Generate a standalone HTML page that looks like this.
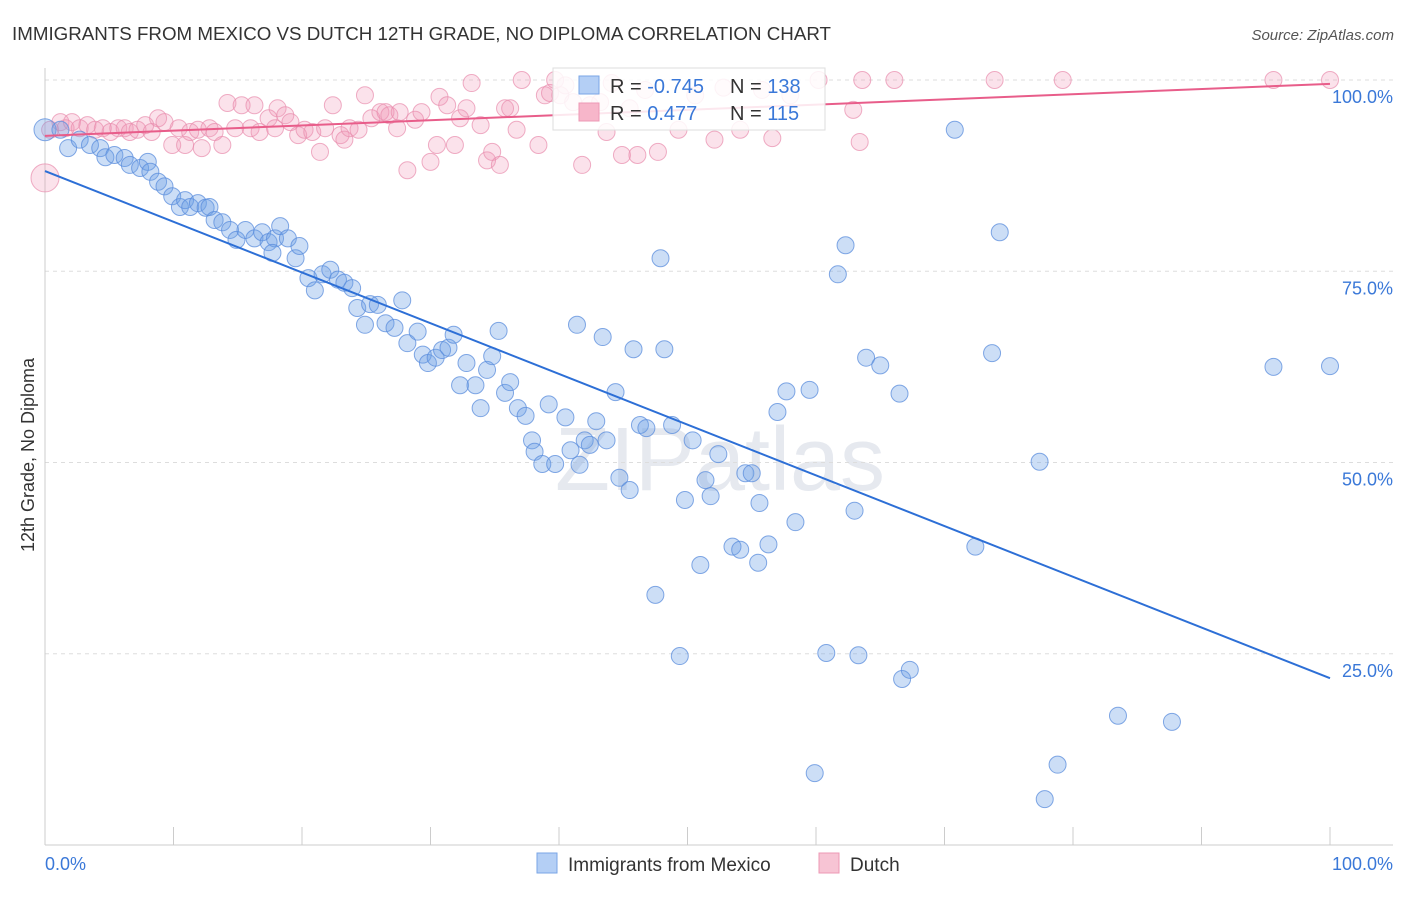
<!DOCTYPE html>
<html><head><meta charset="utf-8">
<style>
body{margin:0;background:#fff;font-family:"Liberation Sans",sans-serif;}
svg text{font-family:"Liberation Sans",sans-serif;}
</style></head>
<body>
<svg id="chart" width="1406" height="892" xmlns="http://www.w3.org/2000/svg">
<text x="12" y="40" font-size="18" fill="#333" textLength="819" lengthAdjust="spacingAndGlyphs">IMMIGRANTS FROM MEXICO VS DUTCH 12TH GRADE, NO DIPLOMA CORRELATION CHART</text>
<text x="1394" y="40" font-size="15" fill="#555" font-style="italic" text-anchor="end">Source: ZipAtlas.com</text>
<text x="720" y="490" font-size="90" fill="#e6e9ef" text-anchor="middle" font-family="Liberation Serif">ZIPatlas</text>
<g id="grid"></g>
<g id="pts"></g>
<g id="lines"></g>
<text transform="translate(34,455) rotate(-90)" font-size="18" fill="#333" text-anchor="middle">12th Grade, No Diploma</text>
<g>
<rect x="553" y="68" width="272" height="62" fill="#fff" fill-opacity="0.85" stroke="#ddd"/>
<rect x="579" y="76" width="20" height="18" fill="#b4cff5" stroke="#7aa6e6"/>
<rect x="579" y="103" width="20" height="18" fill="#f7b6ca" stroke="#ee98b5"/>
<text x="610" y="93" font-size="20" fill="#333">R = <tspan fill="#3a78d8">-0.745</tspan></text>
<text x="730" y="93" font-size="20" fill="#333">N = <tspan fill="#3a78d8">138</tspan></text>
<text x="610" y="120" font-size="20" fill="#333">R = <tspan fill="#3a78d8"> 0.477</tspan></text>
<text x="730" y="120" font-size="20" fill="#333">N = <tspan fill="#3a78d8">115</tspan></text>
</g>
<g>
<rect x="537" y="853" width="20" height="20" fill="#b4cff5" stroke="#7aa6e6"/>
<text x="568" y="871" font-size="19" fill="#333">Immigrants from Mexico</text>
<rect x="819" y="853" width="20" height="20" fill="#f7c4d4" stroke="#ee98b5"/>
<text x="850" y="871" font-size="19" fill="#333">Dutch</text>
</g>
</svg>
<script>
const yTicks=[100,75,50,25];
const xTickLabels=["0.0%","100.0%"];
const blueX=[0,1.2,1.8,2.7,3.5,4.3,4.7,5.4,6.2,6.6,7.4,8.0,8.2,8.8,9.3,9.9,10.5,10.9,11.3,11.9,12.5,12.8,13.2,13.8,14.4,14.9,15.6,16.3,16.9,17.4,17.9,17.7,18.3,18.9,19.5,19.8,20.5,21.0,21.6,22.2,22.8,23.3,23.9,24.3,24.9,25.3,25.9,26.5,27.2,27.8,28.2,29.0,29.4,29.8,30.4,30.9,31.4,31.8,32.3,32.8,33.5,33.9,34.4,34.8,35.3,35.8,36.2,36.8,37.4,37.9,38.1,38.7,39.2,39.7,40.5,40.9,41.4,41.6,42.0,42.4,42.9,43.4,43.7,44.4,44.7,45.5,45.8,46.3,46.8,47.5,47.9,48.2,48.8,49.4,49.8,50.4,51.0,51.4,51.8,52.4,53.5,54.1,54.5,55.0,55.5,55.6,56.3,57.0,57.7,58.4,59.5,59.9,60.8,61.7,62.3,63.0,63.3,63.9,65.0,66.5,66.7,67.3,70.8,72.4,73.7,74.3,77.4,77.8,78.8,83.5,87.7,95.6,100];
const blueY=[93.5,93.5,91.1,92.2,91.5,91.1,89.9,90.2,89.8,88.9,88.5,89.3,88.0,86.7,86.1,84.8,83.4,84.3,83.4,83.9,83.3,83.4,81.7,81.4,80.4,79.1,80.4,79.3,80.1,78.8,79.3,77.4,80.9,79.3,76.7,78.3,74.1,72.5,74.6,75.2,73.9,73.5,72.8,70.2,68.0,70.7,70.6,68.2,67.6,71.2,65.6,67.1,64.1,63.0,63.7,64.7,65.0,66.7,60.1,63.0,60.1,57.1,62.1,63.9,67.2,59.1,60.5,57.1,56.1,52.9,51.4,49.8,57.6,49.8,55.9,51.6,68.0,49.7,52.9,52.3,55.4,66.4,52.9,59.2,48.0,46.4,64.8,54.9,54.5,32.7,76.7,64.8,54.9,24.7,45.1,52.9,36.6,47.7,45.6,51.1,39.0,38.6,48.6,48.6,36.9,44.7,39.3,56.6,59.3,42.2,59.5,9.4,25.1,74.6,78.4,43.7,24.8,63.7,62.7,59.0,21.7,22.9,93.5,39.0,64.3,80.1,50.1,6.0,10.5,16.9,16.1,62.5,62.6];
const pinkX=[0,0.4,1.2,1.6,2.1,2.7,3.3,3.9,4.5,5.1,5.7,6.2,6.6,7.2,7.8,8.3,8.8,9.3,9.9,10.4,10.9,11.3,11.9,12.2,12.8,13.2,13.8,14.2,14.8,15.3,16.0,16.3,16.7,17.4,17.9,18.1,18.7,19.1,19.7,20.2,20.8,21.4,21.8,22.4,23.0,23.3,23.7,24.4,24.9,25.4,26.1,26.5,26.8,27.4,27.6,28.2,28.8,29.3,30.0,30.5,30.7,31.3,31.9,32.3,32.8,33.2,33.9,34.4,34.8,35.4,35.8,36.2,36.7,37.1,38.4,38.9,39.3,39.7,40.1,40.5,41.1,41.8,42.4,43.2,43.7,44.1,44.9,45.5,46.1,46.7,47.7,49.3,50.6,52.1,52.8,54.1,55.8,56.6,58.0,60.2,62.9,63.4,63.6,66.1,73.9,79.2,95.6,100];
const pinkY=[87.2,93.5,94.5,93.7,94.5,93.7,94.1,93.5,93.7,93.2,93.7,93.7,93.2,93.5,94.1,93.2,95.0,94.5,91.5,93.7,91.5,93.2,93.5,91.1,93.7,93.2,91.5,97.0,93.7,96.7,93.7,96.7,93.2,95.0,93.7,96.3,95.4,94.5,92.8,93.5,93.2,90.6,93.7,96.7,92.8,92.2,93.7,93.5,98.0,95.0,95.8,95.8,95.4,93.7,95.8,88.2,94.8,95.8,89.3,91.5,97.8,96.7,91.5,95.0,96.3,99.6,94.1,89.5,90.6,88.9,96.3,96.3,93.5,100,91.5,98.0,98.3,100,98.0,99.3,97.1,88.9,96.7,97.1,93.2,99.6,90.2,96.3,90.2,98.7,90.6,93.5,98.0,92.2,99.0,93.5,98.7,92.4,98.0,100,96.1,91.9,100,100,100,100,100,100];
const blueLine=[88.1,21.8];
const pinkLine=[92.7,99.5];
const NS="http://www.w3.org/2000/svg";
const X=v=>45+v*12.85, Y=v=>80+(100-v)*7.65;
function mk(t,a,p){const e=document.createElementNS(NS,t);for(const k in a)e.setAttribute(k,a[k]);p.appendChild(e);return e;}
const g=document.getElementById('grid');
yTicks.forEach(t=>{
 const l=mk('line',{x1:45,x2:1393,y1:Y(t),y2:Y(t),stroke:'#ddd','stroke-dasharray':'4,4'},g);
 
 
 const tx=mk('text',{x:1393,y:Y(t)+23,'font-size':18,fill:'#3a78d8','text-anchor':'end'},g);
 tx.textContent=t.toFixed(1)+'%';
 
 
});
mk('line',{x1:45,x2:45,y1:68,y2:845,stroke:'#ccc'},g);
mk('line',{x1:45,x2:1393,y1:845,y2:845,stroke:'#ccc'},g);
for(let i=0;i<=10;i++){const t=mk('line',{x1:X(i*10),x2:X(i*10),y1:827,y2:845,stroke:'#ccc'},g);
 
 }
[[0,'start',45],[100,'end',1393]].forEach((d,i)=>{const t=mk('text',{x:d[2],y:870,'font-size':18,fill:'#3a78d8','text-anchor':d[1]},g);t.textContent=xTickLabels[i];
 
 });
const p=document.getElementById('pts');
pinkX.forEach((x,i)=>{const c=mk('circle',{cx:X(x),cy:Y(pinkY[i]),r:i==0?14:8.5,fill:'rgba(242,150,182,0.28)',stroke:'rgba(232,140,172,0.7)','stroke-width':1},p);
 
 });
blueX.forEach((x,i)=>{const c=mk('circle',{cx:X(x),cy:Y(blueY[i]),r:i==0?11:8.5,fill:'rgba(110,160,230,0.35)',stroke:'rgba(90,140,220,0.75)','stroke-width':1},p);
 
 });
const L=document.getElementById('lines');
const bl=mk('line',{x1:X(0),y1:Y(blueLine[0]),x2:X(100),y2:Y(blueLine[1]),stroke:'#2d6fd6','stroke-width':2},L);


const pl=mk('line',{x1:X(0),y1:Y(pinkLine[0]),x2:X(100),y2:Y(pinkLine[1]),stroke:'#e85d8a','stroke-width':2},L);


</script>
</body></html>
